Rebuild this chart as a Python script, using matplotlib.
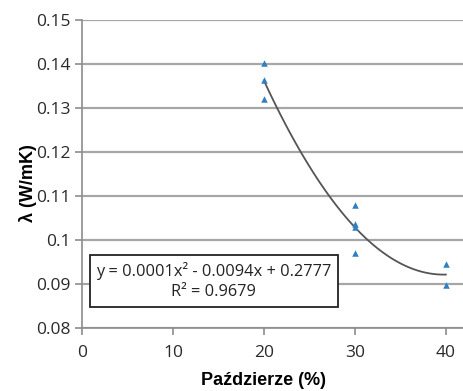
import numpy as np
import matplotlib.pyplot as plt

x_pts = [20, 20, 20, 30, 30, 30, 30, 40, 40]
y_pts = [0.1403, 0.1364, 0.1320, 0.1080, 0.1036, 0.1030, 0.0970, 0.0945, 0.0898]

x_ticks = [0, 10, 20, 30, 40]
y_ticks = [0.08, 0.09, 0.1, 0.11, 0.12, 0.13, 0.14, 0.15]
y_labels = ["0.08", "0.09", "0.1", "0.11", "0.12", "0.13", "0.14", "0.15"]

eq_text = "y = 0.0001x\u00b2 - 0.0094x + 0.2777\nR\u00b2 = 0.9679"

fig = plt.figure(figsize=(4.64, 3.91), dpi=100)
ax = fig.add_axes([0.1767, 0.161, 0.8233, 0.788])

# trend line (2nd order polynomial fitted to the points)
coef = np.polyfit(x_pts, y_pts, 2)
xs = np.linspace(20, 40, 100)
ax.plot(xs, np.polyval(coef, xs), color="#555555", lw=1.3, zorder=3)
ax.scatter(x_pts, y_pts, marker="^", s=22, color="#2f7fc1", zorder=4, linewidths=0)

ax.set_xlim(0, 42)
ax.set_ylim(0.08, 0.15)
ax.set_xticks(x_ticks)
ax.set_yticks(y_ticks)
ax.set_yticklabels(y_labels)
ax.grid(axis="y", color="#a6a6a6", lw=1.6)
ax.set_axisbelow(True)

for s in ["top", "right"]:
    ax.spines[s].set_visible(False)
for s in ["left", "bottom"]:
    ax.spines[s].set_color("#8c8c8c")
    ax.spines[s].set_linewidth(1.2)
ax.tick_params(length=5, width=1.2, color="#8c8c8c", labelsize=12.5,
               labelcolor="#2a2a2a")
for lab in ax.get_xticklabels() + ax.get_yticklabels():
    lab.set_family("Open Sans")
ax.tick_params(axis="x", pad=7)

ax.set_ylabel("\u03bb (W/mK)", fontsize=13, fontweight="bold",
              family="Liberation Sans", labelpad=-1)
ax.set_xlabel("Paździerze (%)", fontsize=13, fontweight="bold",
              family="Liberation Sans", labelpad=8)
ax.yaxis.label.set_y(0.47)
ax.xaxis.label.set_x(0.475)

ax.text(14.5, 0.0907, eq_text, ha="center", va="center", fontsize=11.8,
        family="Open Sans", color="#222222", linespacing=1.4,
        bbox=dict(boxstyle="square,pad=0.4", facecolor="white",
                  edgecolor="#222222", lw=1.3))

plt.savefig("out.png", dpi=100)
plt.close()
